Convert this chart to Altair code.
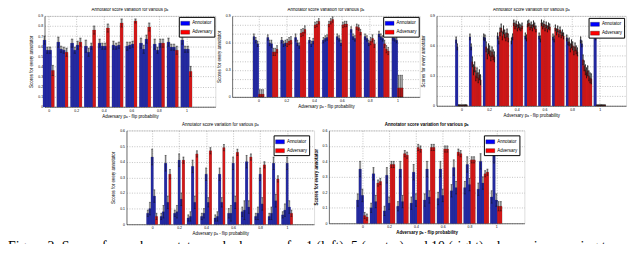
import json
import altair as alt
import pandas as pd

# ---------------- data ----------------
P = [0, 0.1, 0.2, 0.3, 0.4, 0.5, 0.6, 0.7, 0.8, 0.9, 1.0]
X_TICKS = [0, 0.2, 0.4, 0.6, 0.8, 1]

# Panel 1 (top left): 3 annotators, 1 adversary
P1_ANN = [
    [0.66, 0.64, 0.63, 0.60, 0.63, 0.61, 0.60, 0.63, 0.62, 0.64, 0.66],
    [0.56, 0.57, 0.56, 0.54, 0.60, 0.60, 0.61, 0.57, 0.56, 0.59, 0.57],
    [0.56, 0.56, 0.61, 0.60, 0.60, 0.61, 0.62, 0.67, 0.63, 0.59, 0.57],
]
P1_ANN_ERR = [
    [0.04, 0.05, 0.04, 0.06, 0.04, 0.04, 0.04, 0.05, 0.05, 0.04, 0.04],
    [0.03, 0.03, 0.03, 0.04, 0.03, 0.03, 0.03, 0.04, 0.03, 0.03, 0.03],
    [0.03, 0.03, 0.04, 0.03, 0.03, 0.03, 0.03, 0.04, 0.04, 0.03, 0.03],
]
P1_ADV = [[0.36, 0.54, 0.64, 0.76, 0.78, 0.83, 0.85, 0.79, 0.63, 0.56, 0.35]]
P1_ADV_ERR = [[0.05, 0.04, 0.04, 0.04, 0.04, 0.04, 0.02, 0.04, 0.04, 0.04, 0.05]]

# Panel 2 (top centre): 3 annotators, 3 adversaries
P2_ANN = [
    [0.67, 0.66, 0.63, 0.66, 0.63, 0.63, 0.67, 0.75, 0.67, 0.70, 0.66],
    [0.63, 0.60, 0.59, 0.60, 0.59, 0.65, 0.65, 0.67, 0.65, 0.67, 0.65],
    [0.59, 0.59, 0.60, 0.57, 0.62, 0.66, 0.60, 0.65, 0.60, 0.65, 0.63],
]
P2_ANN_ERR = [
    [0.03, 0.03, 0.03, 0.04, 0.03, 0.03, 0.03, 0.03, 0.03, 0.03, 0.03],
    [0.03, 0.03, 0.03, 0.03, 0.03, 0.03, 0.03, 0.03, 0.03, 0.03, 0.03],
    [0.03, 0.04, 0.03, 0.03, 0.03, 0.03, 0.03, 0.03, 0.03, 0.03, 0.03],
]
P2_ADV = [
    [0.03, 0.50, 0.60, 0.71, 0.80, 0.81, 0.80, 0.78, 0.62, 0.59, 0.10],
    [0.03, 0.50, 0.62, 0.72, 0.81, 0.84, 0.81, 0.77, 0.65, 0.53, 0.10],
    [0.03, 0.53, 0.63, 0.75, 0.84, 0.86, 0.81, 0.72, 0.59, 0.51, 0.10],
]
P2_ADV_ERR = [
    [0.05, 0.04, 0.04, 0.04, 0.03, 0.03, 0.03, 0.03, 0.04, 0.04, 0.14],
    [0.05, 0.04, 0.04, 0.04, 0.03, 0.03, 0.03, 0.03, 0.04, 0.04, 0.14],
    [0.05, 0.04, 0.04, 0.04, 0.03, 0.03, 0.03, 0.03, 0.04, 0.04, 0.14],
]

# Panel 3 (top right): 2 annotators, 8 adversaries
P3_ANN = [
    [0.66, 0.69, 0.69, 0.70, 0.65, 0.70, 0.70, 0.69, 0.68, 0.66, 0.73],
    [0.59, 0.59, 0.68, 0.65, 0.69, 0.68, 0.67, 0.67, 0.64, 0.62, 0.69],
]
P3_ANN_ERR = [
    [0.03, 0.03, 0.03, 0.03, 0.03, 0.03, 0.03, 0.03, 0.03, 0.03, 0.03],
    [0.03, 0.03, 0.03, 0.03, 0.03, 0.03, 0.03, 0.03, 0.03, 0.03, 0.03],
]
P3_ADV = [
    [0.005, 0.44, 0.59, 0.74, 0.83, 0.82, 0.83, 0.78, 0.64, 0.46, 0.005],
    [0.005, 0.36, 0.52, 0.78, 0.80, 0.83, 0.80, 0.74, 0.58, 0.40, 0.005],
    [0.005, 0.39, 0.57, 0.70, 0.82, 0.79, 0.82, 0.77, 0.62, 0.36, 0.005],
    [0.005, 0.30, 0.55, 0.76, 0.78, 0.81, 0.78, 0.72, 0.60, 0.33, 0.005],
    [0.005, 0.33, 0.50, 0.72, 0.81, 0.78, 0.81, 0.76, 0.55, 0.35, 0.005],
    [0.005, 0.28, 0.54, 0.69, 0.79, 0.82, 0.77, 0.71, 0.59, 0.30, 0.005],
    [0.005, 0.31, 0.51, 0.73, 0.78, 0.80, 0.80, 0.73, 0.56, 0.28, 0.005],
    [0.005, 0.26, 0.49, 0.68, 0.80, 0.77, 0.79, 0.70, 0.54, 0.27, 0.005],
]
P3_ADV_ERR = [[0.005, 0.05, 0.05, 0.04, 0.03, 0.03, 0.03, 0.03, 0.04, 0.05, 0.005]] * 8

# Panel 4 (bottom left): 4 annotators, 1 adversary
P4_ANN = [
    [0.07, 0.05, 0.07, 0.04, 0.05, 0.04, 0.07, 0.08, 0.05, 0.05, 0.06],
    [0.10, 0.08, 0.08, 0.05, 0.07, 0.05, 0.07, 0.09, 0.07, 0.07, 0.09],
    [0.43, 0.39, 0.41, 0.37, 0.32, 0.32, 0.39, 0.40, 0.32, 0.39, 0.39],
    [0.18, 0.14, 0.16, 0.14, 0.14, 0.14, 0.14, 0.11, 0.13, 0.15, 0.11],
]
P4_ANN_ERR = [
    [0.02, 0.02, 0.02, 0.02, 0.02, 0.02, 0.03, 0.03, 0.02, 0.02, 0.02],
    [0.04, 0.04, 0.04, 0.03, 0.03, 0.03, 0.05, 0.06, 0.04, 0.04, 0.04],
    [0.05, 0.05, 0.04, 0.04, 0.04, 0.04, 0.04, 0.04, 0.04, 0.04, 0.04],
    [0.04, 0.04, 0.04, 0.04, 0.03, 0.03, 0.04, 0.04, 0.04, 0.04, 0.04],
]
P4_ADV = [[0.05, 0.32, 0.41, 0.45, 0.47, 0.49, 0.46, 0.43, 0.38, 0.29, 0.07]]
P4_ADV_ERR = [[0.02, 0.03, 0.02, 0.02, 0.02, 0.02, 0.02, 0.02, 0.02, 0.02, 0.02]]

# Panel 5 (bottom right): 3 annotators, 2 adversaries
P5_ANN = [
    [0.15, 0.10, 0.08, 0.11, 0.13, 0.15, 0.16, 0.21, 0.23, 0.22, 0.17],
    [0.35, 0.32, 0.31, 0.35, 0.33, 0.35, 0.35, 0.36, 0.38, 0.40, 0.44],
    [0.18, 0.14, 0.13, 0.14, 0.15, 0.17, 0.18, 0.23, 0.25, 0.26, 0.15],
]
P5_ANN_ERR = [
    [0.04, 0.03, 0.03, 0.03, 0.04, 0.04, 0.04, 0.04, 0.04, 0.04, 0.04],
    [0.05, 0.04, 0.05, 0.05, 0.05, 0.05, 0.05, 0.05, 0.05, 0.05, 0.05],
    [0.04, 0.04, 0.04, 0.04, 0.04, 0.04, 0.04, 0.04, 0.04, 0.04, 0.04],
]
P5_ADV = [
    [0.05, 0.26, 0.38, 0.45, 0.49, 0.49, 0.48, 0.46, 0.41, 0.32, 0.11],
    [0.04, 0.27, 0.38, 0.44, 0.48, 0.49, 0.48, 0.45, 0.41, 0.33, 0.11],
]
P5_ADV_ERR = [
    [0.02, 0.02, 0.02, 0.02, 0.02, 0.02, 0.02, 0.02, 0.02, 0.02, 0.03],
    [0.02, 0.02, 0.02, 0.02, 0.02, 0.02, 0.02, 0.02, 0.02, 0.02, 0.03],
]

TITLE = "Annotator score variation for various p\u2090"
X_TITLE = "Adversary p\u2090 - flip probability"
Y_TITLE = "Scores for every annotator"
CAPTION = ("Figure 2: Scores for each annotator and adversary for 1 (left), 5 (center) and 10 (right) "
           "adversaries, varying the flip points and for the")

Y9 = [0, 0.1, 0.2, 0.3, 0.4, 0.5, 0.6, 0.7, 0.8, 0.9]
Y6 = [0, 0.1, 0.2, 0.3, 0.4, 0.5, 0.6]

BLUE = "#242a9e"
RED = "#d01818"
FONT = "Liberation Sans"


def panel(ann, ann_err, adv, adv_err, group_w, xdom, ydom, yvals, ylabels,
          width, height, bold, legend_offset, err_w):
    series = [("Annotator", v, e) for v, e in zip(ann, ann_err)] + \
             [("Adversary", v, e) for v, e in zip(adv, adv_err)]
    n = len(series)
    w = group_w / n
    rows = []
    for i, (role, vals, errs) in enumerate(series):
        for p, v, e in zip(P, vals, errs):
            x0 = p - group_w / 2 + i * w
            rows.append(dict(role=role, x=x0, x2=x0 + w, xc=x0 + w / 2,
                             cl=x0 + w * 0.1, cr=x0 + w * 0.9,
                             v=v, lo=max(v - e, 0), hi=v + e, zero=0))
    df = pd.DataFrame(rows)
    fw = "bold" if bold else "normal"
    xaxis = alt.Axis(values=X_TICKS, format="~g", title=X_TITLE, grid=True,
                     gridDash=[1, 1.5], gridColor="#666", gridWidth=0.4,
                     ticks=False, labelFontSize=3.5, titleFontSize=4.5,
                     labelPadding=1.5, titlePadding=1.5, domainColor="black",
                     domainWidth=0.5, labelColor="black", titleColor="black",
                     labelFont=FONT, titleFont=FONT, titleFontWeight=fw)
    yaxis = alt.Axis(values=yvals, format="~g", title=Y_TITLE, grid=True,
                     gridDash=[1, 1.5], gridColor="#666", gridWidth=0.4,
                     labelExpr="indexof(%s, datum.label) >= 0 ? datum.label : ''" % json.dumps(ylabels),
                     ticks=False, labelFontSize=3.5, titleFontSize=4.5,
                     labelPadding=2, titlePadding=4, domainColor="black",
                     domainWidth=0.5, labelColor="black", titleColor="black",
                     labelFont=FONT, titleFont=FONT, titleFontWeight=fw)
    xs = alt.Scale(domain=xdom, nice=False, zero=False)
    ys = alt.Scale(domain=ydom, nice=False)

    def X(f):
        return alt.X(f, type="quantitative", scale=xs, axis=xaxis)

    def Y(f):
        return alt.Y(f, type="quantitative", scale=ys, axis=yaxis)

    base = alt.Chart(df)
    bars = base.mark_rect(stroke="black", strokeWidth=0.3).encode(
        x=X("x"), x2="x2:Q", y=Y("v"), y2="zero:Q",
        color=alt.Color("role:N",
                        scale=alt.Scale(domain=["Annotator", "Adversary"], range=["#0000ff", "#ff0000"]),
                        legend=alt.Legend(orient="top-right", title=None, offset=legend_offset,
                                          labelFontSize=4.5, labelFont=FONT, labelColor="black",
                                          symbolType="M-1,-0.45H1V0.45H-1Z", symbolSize=80,
                                          symbolStrokeColor="black", symbolStrokeWidth=0.3,
                                          strokeColor="black", fillColor="white", padding=1.5,
                                          rowPadding=1, labelOffset=2, cornerRadius=0)))
    fill = base.mark_rect(strokeWidth=0).encode(
        x=X("x"), x2="x2:Q", y=Y("v"), y2="zero:Q",
        color=alt.Color("role:N", scale=alt.Scale(domain=["Annotator", "Adversary"], range=[BLUE, RED]),
                        legend=None))
    gray = base.mark_rect(color="#9a9a9a", opacity=0.55).encode(
        x=X("x"), x2="x2:Q", y=Y("v"), y2="hi:Q")
    whisk = base.mark_rule(color="#111", strokeWidth=err_w).encode(
        x=X("xc"), y=Y("lo"), y2="hi:Q")
    cap_t = base.mark_rule(color="#111", strokeWidth=err_w).encode(
        x=X("cl"), x2="cr:Q", y=Y("hi"))
    cap_b = base.mark_rule(color="#111", strokeWidth=err_w).encode(
        x=X("cl"), x2="cr:Q", y=Y("lo"))
    return alt.layer(bars, fill, gray, whisk, cap_t, cap_b).properties(
        width=width, height=height,
        title=alt.TitleParams(TITLE, fontSize=4.5, fontWeight=fw, font=FONT, offset=2, color="black"),
    ).resolve_scale(color="independent")


def indep(c):
    return c.resolve_scale(x="independent", y="independent", color="independent").resolve_legend(
        color="independent")


p1 = panel(P1_ANN, P1_ANN_ERR, P1_ADV, P1_ADV_ERR, 0.08, [-0.03, 1.21], [0, 0.9], Y9,
           ["0", "0.1", "0.2", "0.3", "0.4", "0.5", "0.6", "0.7", "0.8", "0.9"], 173, 92, False, 1, 0.5)
p2 = panel(P2_ANN, P2_ANN_ERR, P2_ADV, P2_ADV_ERR, 0.08, [-0.19, 1.16], [0, 0.9], Y9,
           ["0", "0.3", "0.6", "0.9"], 190, 82, False, 1, 0.5)
p3 = panel(P3_ANN, P3_ANN_ERR, P3_ADV, P3_ADV_ERR, 0.085, [-0.18, 1.19], [0, 0.9], Y9,
           ["0", "0.3", "0.6", "0.9"], 192, 91, False, 2, 0.8)
p4 = panel(P4_ANN, P4_ANN_ERR, P4_ADV, P4_ADV_ERR, 0.08, [-0.19, 1.2], [0, 0.6], Y6,
           ["0", "0.1", "0.2", "0.3", "0.4", "0.5", "0.6"], 190, 95, False, 5, 0.5)
p5 = panel(P5_ANN, P5_ANN_ERR, P5_ADV, P5_ADV_ERR, 0.085, [-0.25, 1.21], [0, 0.6], Y6,
           ["0", "0.1", "0.2", "0.3", "0.4", "0.5", "0.6"], 198, 94, True, 5, 0.5)

spacer = alt.Chart(pd.DataFrame({"a": [0]})).mark_point(opacity=0).properties(
    width=68, height=95, view=alt.ViewBackground(stroke="transparent"))

cap = alt.Chart(pd.DataFrame({"t": [CAPTION]})).mark_text(
    align="left", baseline="top", font="Liberation Serif", fontSize=14, color="black",
    limit=625, ellipsis="").encode(
    text="t:N", x=alt.value(-37), y=alt.value(-3)).properties(
    width=560, height=7, view=alt.ViewBackground(stroke="transparent"))

row1 = indep(alt.hconcat(p1, p2, p3, spacing=17, bounds="flush"))
row2 = indep(alt.hconcat(spacer, p4, p5, spacing=15, bounds="flush"))

chart = indep(alt.vconcat(row1, row2, cap, spacing=3)).properties(
    autosize=alt.AutoSizeParams(type="none"),
    padding={"left": 37, "top": 6.5, "right": 595, "bottom": 229.5},
).configure_view(stroke="black", strokeWidth=0.5).configure(background="white")

chart.save("out.html", embed_options={"renderer": "svg", "actions": False})
